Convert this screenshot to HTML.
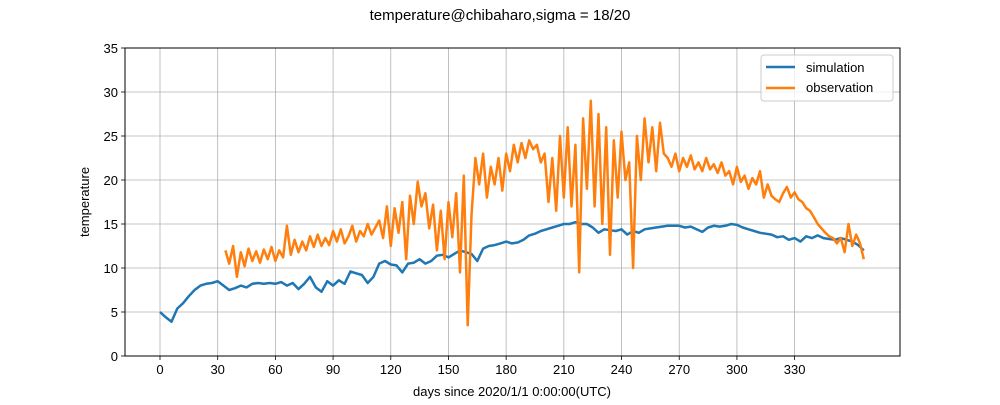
<!DOCTYPE html>
<html><head><meta charset="utf-8"><style>
body{margin:0;background:#fff;font-family:"Liberation Sans","DejaVu Sans",sans-serif}
svg text{font-family:"Liberation Sans","DejaVu Sans",sans-serif;fill:#000}
</style></head><body>
<svg id="chart" width="1000" height="400" xmlns="http://www.w3.org/2000/svg">
<rect width="1000" height="400" fill="#fff"/>
<text x="500" y="20" font-size="15" text-anchor="middle">temperature@chibaharo,sigma = 18/20</text>
<g id="grid"></g><g id="series"></g><g id="axes"></g>
<text x="512" y="396" font-size="13" text-anchor="middle">days since 2020/1/1 0:00:00(UTC)</text>
<text transform="translate(89,202) rotate(-90)" font-size="13" text-anchor="middle">temperature</text>
<g>
<rect x="761" y="55" width="132" height="46" rx="3" fill="#fff" fill-opacity="0.8" stroke="#ccc"/>
<line x1="766" y1="67" x2="795" y2="67" stroke="#1f77b4" stroke-width="2.5"/>
<text x="806" y="72" font-size="13">simulation</text>
<line x1="766" y1="88" x2="795" y2="88" stroke="#ff7f0e" stroke-width="2.5"/>
<text x="806" y="92" font-size="13">observation</text>
</g>
</svg>
<script>
const xTicks=[0,30,60,90,120,150,180,210,240,270,300,330];
const yTicks=[0,5,10,15,20,25,30,35];
const simStart=0, simStep=3;
const simValues=[5.0,4.4,3.9,5.4,6.0,6.8,7.5,8.0,8.2,8.3,8.5,8.0,7.5,7.7,8.0,7.8,8.2,8.3,8.2,8.3,8.2,8.4,8.0,8.3,7.6,8.2,9.0,7.8,7.3,8.5,8.0,8.6,8.2,9.6,9.4,9.2,8.3,9.0,10.5,10.8,10.4,10.3,9.5,10.5,10.6,11.0,10.5,10.8,11.4,11.5,11.2,11.6,12.0,11.8,11.6,10.8,12.2,12.5,12.6,12.8,13.0,12.8,12.9,13.2,13.7,13.9,14.2,14.4,14.6,14.8,15.0,15.0,15.2,15.0,15.0,14.6,14.0,14.4,14.3,14.2,14.4,13.8,14.2,14.0,14.4,14.5,14.6,14.7,14.8,14.8,14.8,14.6,14.7,14.4,14.1,14.6,14.8,14.7,14.8,15.0,14.9,14.6,14.4,14.2,14.0,13.9,13.8,13.5,13.6,13.2,13.4,13.0,13.6,13.4,13.7,13.4,13.3,13.2,13.4,13.2,13.0,12.6,12.0];
const obsStart=34, obsStep=2;
const obsValues=[12.0,10.5,12.5,9.0,11.8,10.2,12.2,10.8,11.9,10.6,
12.1,11.0,12.4,10.8,12.0,11.2,14.8,11.5,13.2,11.8,
13.0,12.0,13.6,12.4,13.8,12.5,13.4,12.6,14.2,13.0,
14.4,12.8,13.6,14.8,13.0,14.2,13.6,15.0,13.8,14.6,
15.4,13.4,17.0,12.5,16.8,14.0,17.5,11.0,18.2,15.0,
19.8,17.0,18.5,14.5,17.2,12.0,16.5,11.0,17.5,13.5,
18.5,9.5,20.5,3.5,16.0,22.5,19.5,23.0,18.0,21.5,
19.5,22.5,18.8,23.0,21.0,24.0,22.0,24.2,22.5,24.5,
23.5,24.0,22.0,23.0,17.5,22.5,16.5,25.0,18.0,26.0,
17.0,24.0,9.5,27.0,19.0,29.0,17.0,27.5,15.0,26.0,
11.5,24.5,18.0,25.5,20.0,22.0,10.0,25.0,20.0,27.0,
22.0,26.0,21.0,26.5,23.0,22.5,21.5,23.0,21.0,22.5,
21.5,22.8,21.2,22.0,21.0,22.5,21.2,21.8,20.8,22.0,
20.5,21.0,19.5,21.5,19.8,20.5,19.0,20.2,19.5,21.0,
18.0,19.5,18.2,17.8,17.5,18.5,19.2,18.0,18.6,17.8,
17.5,16.8,16.5,15.8,15.0,14.5,14.0,13.6,13.4,12.8,
13.4,11.8,15.0,12.5,13.8,12.8,11.0];

const L=125,R=900,T=48,B=356;
const xMin=-18.2,xMax=384.8,yMin=0,yMax=35;
const xs=v=>L+(v-xMin)/(xMax-xMin)*(R-L);
const ys=v=>B-(v-yMin)/(yMax-yMin)*(B-T);
const NS="http://www.w3.org/2000/svg";
function mk(tag,attrs,parent){const e=document.createElementNS(NS,tag);for(const k in attrs)e.setAttribute(k,attrs[k]);parent.appendChild(e);return e;}
const grid=document.getElementById('grid'),axes=document.getElementById('axes'),series=document.getElementById('series');
xTicks.forEach(t=>{
  const x=xs(t);
  const g=mk('line',{x1:x,x2:x,y1:T,y2:B,stroke:'#b0b0b0','stroke-width':0.8},grid);
  
  
  mk('line',{x1:x,x2:x,y1:B,y2:B+4,stroke:'#000','stroke-width':0.8},axes);
  const tx=mk('text',{x:x,y:B+18,'font-size':13,'text-anchor':'middle'},axes);
  tx.textContent=t;
  
  
});
yTicks.forEach(t=>{
  const y=ys(t);
  const g=mk('line',{x1:L,x2:R,y1:y,y2:y,stroke:'#b0b0b0','stroke-width':0.8},grid);
  
  
  mk('line',{x1:L-4,x2:L,y1:y,y2:y,stroke:'#000','stroke-width':0.8},axes);
  const tx=mk('text',{x:L-7,y:y+5,'font-size':13,'text-anchor':'end'},axes);
  tx.textContent=t;
  
  
});
const frame=mk('rect',{x:L,y:T,width:R-L,height:B-T,fill:'none',stroke:'#000','stroke-width':1},axes);


function path(vals,start,step,color,name){
  const d=vals.map((v,i)=>(i?'L':'M')+xs(start+i*step).toFixed(1)+','+ys(v).toFixed(1)).join('');
  const p=mk('path',{d:d,fill:'none',stroke:color,'stroke-width':2.5,'stroke-linejoin':'round'},series);
  
  
}
path(simValues,simStart,simStep,'#1f77b4','simulation-line');
path(obsValues,obsStart,obsStep,'#ff7f0e','observation-line');
</script>
</body></html>
